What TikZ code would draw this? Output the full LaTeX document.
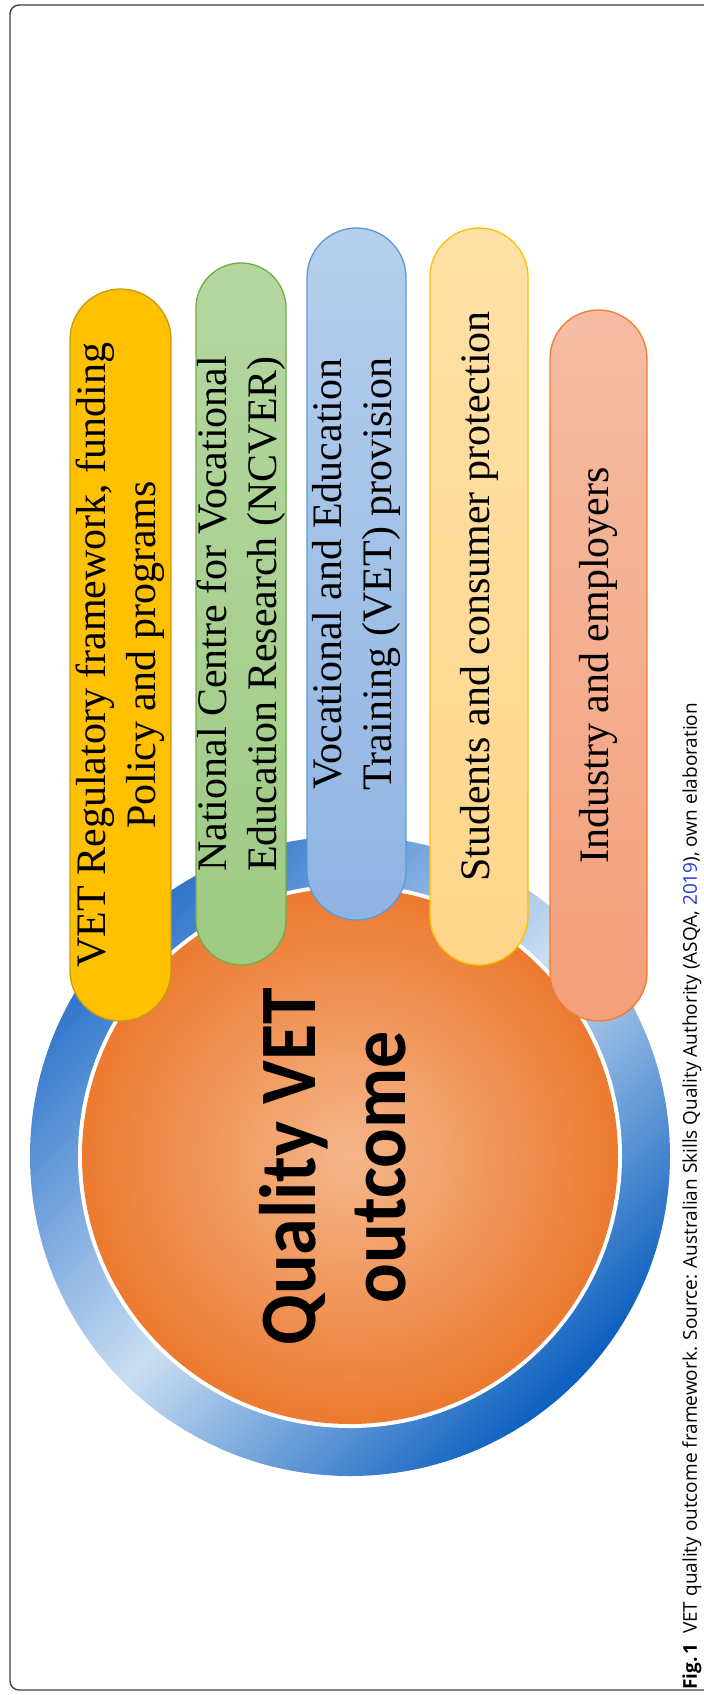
\documentclass[tikz,border=0pt]{standalone}
\usepackage{fontspec}
\setmainfont{Liberation Serif}
\newfontfamily\headfont[FakeStretch=0.925]{Carlito}
\newfontfamily\capfont{Open Sans}
\usepackage{xcolor}
\usepackage{tikz}
\usetikzlibrary{shapes.misc}

\definecolor{ringdark}{HTML}{0B5FBF}
\definecolor{ringmid}{HTML}{2C73CB}
\definecolor{ringlight}{HTML}{CADEF2}
\definecolor{corelight}{HTML}{F5B68A}
\definecolor{coredark}{HTML}{EC7A30}
\definecolor{goldfill}{HTML}{FFC000}
\definecolor{goldline}{HTML}{C89A10}
\definecolor{greenleft}{HTML}{B4D7A0}
\definecolor{greenright}{HTML}{9FCA84}
\definecolor{greenline}{HTML}{70AD47}
\definecolor{blueleft}{HTML}{B5CEEC}
\definecolor{blueright}{HTML}{8FB4E2}
\definecolor{blueline}{HTML}{5B9BD5}
\definecolor{creamleft}{HTML}{FFE0A6}
\definecolor{creamright}{HTML}{FFD68A}
\definecolor{creamline}{HTML}{FFC000}
\definecolor{salmonleft}{HTML}{F6BCA3}
\definecolor{salmonright}{HTML}{F39F7A}
\definecolor{salmonline}{HTML}{ED7D31}
\definecolor{capblue}{HTML}{2338E0}

\begin{document}
\begin{tikzpicture}[
  x=1pt, y=-1pt,
  every node/.style={inner sep=0pt},
  frame/.style={draw=black!75, line width=1.4pt, rounded corners=9pt},
  ring/.style={circle, minimum size=640pt, top color=ringmid,
               bottom color=ringdark, middle color=ringlight, shading angle=45},
  gap/.style={circle, minimum size=544pt, fill=white},
  core/.style={circle, minimum size=536pt, inner color=corelight,
               outer color=coredark},
  title/.style={font=\headfont\bfseries\fontsize{80}{90}\selectfont,
                align=center, rotate=90},
  pill/.style={rounded rectangle, rotate=90, line width=1.3pt, align=center,
               font=\fontsize{42}{50}\selectfont},
  caption/.style={font=\capfont\fontsize{19}{22}\selectfont, rotate=90,
                  anchor=west}
]
  \useasboundingbox (0,0) rectangle (704,1695);

  % ── Frame ─────────────────────────────────────────────────────
  \draw[frame] (704,5) -- (10,5) -- (10,1690) -- (704,1690);

  % ── Central circle ────────────────────────────────────────────
  \node[ring] (ring) at (350,1156) {};
  \node[gap]  (gap)  at (ring.center) {};
  \node[core] (core) at (ring.center) {};
  \node[title] (title) at (333,1167) {Quality VET\\outcome};

  % ── Pills ─────────────────────────────────────────────────────
  \node[pill, fill=goldfill, draw=goldline,
        minimum width=732pt, minimum height=101pt] (regul) at (120.5,655)
        {VET Regulatory framework, funding\\Policy and programs};
  \node[pill, top color=greenleft, bottom color=greenright, draw=greenline,
        minimum width=702pt, minimum height=90pt] (ncver) at (241,614)
        {National Centre for Vocational\\Education Research (NCVER)};
  \node[pill, top color=blueleft, bottom color=blueright, draw=blueline,
        minimum width=692pt, minimum height=99pt] (prov) at (356.5,574)
        {Vocational and Education\\Training (VET) provision};
  \node[pill, top color=creamleft, bottom color=creamright, draw=creamline,
        minimum width=737pt, minimum height=98pt] (stud) at (479,596.5)
        {Students and consumer protection};
  \node[pill, top color=salmonleft, bottom color=salmonright, draw=salmonline,
        minimum width=711pt, minimum height=97pt] (indus) at (598.5,665.5)
        {Industry and employers};

  % ── Caption ───────────────────────────────────────────────────
  \node[caption] (cap) at (692,1690)
        {{\bfseries Fig.\,1}\hspace{0.5em}VET quality outcome framework. Source:
         Australian Skills Quality Authority (ASQA, \textcolor{capblue}{2019}),
         own elaboration};

\end{tikzpicture}
\end{document}
